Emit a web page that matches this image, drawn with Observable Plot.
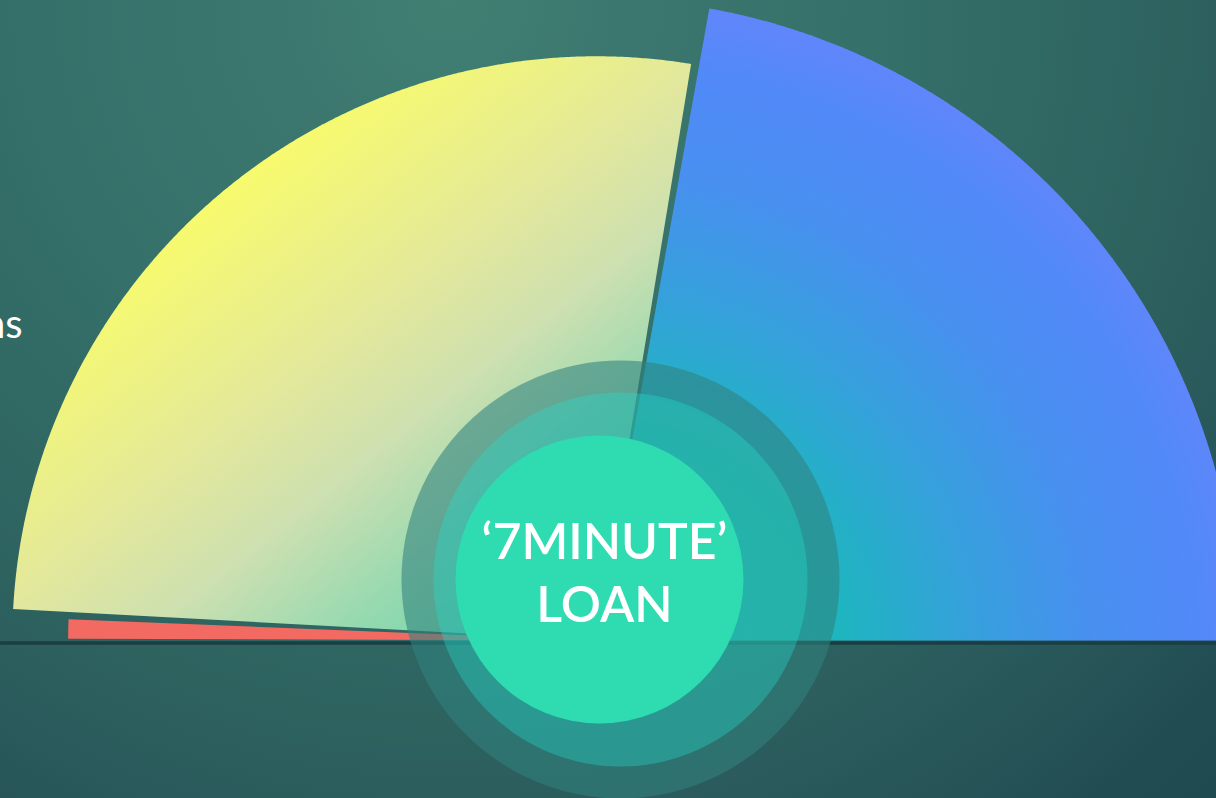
<!DOCTYPE html>
<html>
<head>
<meta charset="utf-8">
<script src="https://cdn.jsdelivr.net/npm/d3@7"></script>
<script src="https://cdn.jsdelivr.net/npm/@observablehq/plot@0.6"></script>
<style>
html, body { margin: 0; padding: 0; width: 1216px; height: 798px; overflow: hidden; }
body {
  background: radial-gradient(circle 1100px at 450px 0px,
    #417f72 0px, #3c786f 150px, #35706a 420px, #2d625f 730px,
    #2b5b5c 830px, #214d52 1030px, #1f4a50 1100px);
}
#chart { position: absolute; left: 0; top: 0; }
</style>
</head>
<body>
<div id="chart"></div>
<script>
// ---- data ----
const categories = ["Bank Loans", "Payday Loans", "Pawn Loans"];
const shares = [44.6, 53.9, 1.5];      // % of the half circle (angle)
const reach  = [100, 91, 82.3];        // relative outer radius of each wedge
const fills  = ["url(#gBlue)", "url(#gYellow)", "#f26a61"];
const labelled = "Payday Loans";
const centerText = "\u20187MINUTE\u2019\nLOAN";

// ---- layout ----
const W = 1216, H = 798;
const cx = 596, cy = 640;   // pixel position of the pie centre
const k = 6.42;             // pixels per radius unit
const pad = 0.8;            // degrees between wedges
const rad = d => d * Math.PI / 180;

const n = categories.length;
const wedgePts = [];
let cum = 0;
categories.forEach((c, i) => {
  const span = shares[i] / 100 * 180;
  const a0 = cum + (i > 0 ? pad / 2 : 0);
  const a1 = cum + span - (i < n - 1 ? pad / 2 : 0.2);
  cum += span;
  wedgePts.push({cat: c, x: 0, y: 0});
  for (let a = a0; a < a1; a += 0.25)
    wedgePts.push({cat: c, x: reach[i] * Math.cos(rad(a)), y: reach[i] * Math.sin(rad(a))});
  wedgePts.push({cat: c, x: reach[i] * Math.cos(rad(a1)), y: reach[i] * Math.sin(rad(a1))});
  wedgePts.push({cat: c, x: 0, y: 0});
});

// label position (polar, relative to its wedge)
const li = categories.indexOf(labelled);
const labelData = [{
  text: labelled,
  x: (reach[li] + 11) * Math.cos(rad(151.2)),
  y: (reach[li] + 11) * Math.sin(rad(151.2))
}];

// hub (decorative centre disc) in data units
const px2x = p => (p - cx) / k, px2y = p => (cy - p) / k;
const hubRings = [{x: px2x(620), y: px2y(579)}];
const hubCore = [{x: px2x(599), y: px2y(579)}];
const hubText = [{x: px2x(604), y: px2y(570), text: centerText}];

const marks = categories.map((c, i) =>
  Plot.line(wedgePts.filter(d => d.cat === c), {x: "x", y: "y", fill: fills[i], stroke: "none"})
);
marks.push(
  Plot.ruleY([0], {stroke: "#1a3e43", strokeWidth: 3.5, dy: 2.5}),
  Plot.dot(hubRings, {x: "x", y: "y", r: 219, fill: "rgb(48,129,125)", fillOpacity: 0.58, stroke: "none"}),
  Plot.dot(hubRings, {x: "x", y: "y", r: 187, fill: "rgb(36,225,208)", fillOpacity: 0.34, stroke: "none"}),
  Plot.dot(hubCore, {x: "x", y: "y", r: 144, fill: "#2fdbb1", stroke: "none"}),
  Plot.text(hubText, {x: "x", y: "y", text: "text", fill: "white", fontSize: 50, fontWeight: 600,
    fontFamily: "Lato", textAnchor: "middle", lineAnchor: "middle", lineHeight: 1.26}),
  Plot.text(labelData, {x: "x", y: "y", text: "text", fill: "white", fontSize: 40,
    fontFamily: "Lato", textAnchor: "end", lineAnchor: "middle"})
);

const svg = Plot.plot({
  width: W, height: H, margin: 0,
  x: {domain: [-cx / k, (W - cx) / k], range: [0, W], axis: null},
  y: {domain: [-(H - cy) / k, cy / k], range: [H, 0], axis: null},
  style: {background: "transparent", overflow: "visible"},
  marks
});

const defs = d3.select(svg).insert("defs", ":first-child");
const gy = defs.append("linearGradient").attr("id", "gYellow")
  .attr("gradientUnits", "userSpaceOnUse")
  .attr("x1", 230).attr("y1", 180).attr("x2", 560).attr("y2", 600);
[[0, "#f8fb6c"], [0.37, "#e2e89c"], [0.57, "#cde0b0"], [0.8, "#95d9b0"], [1, "#6fd8aa"]]
  .forEach(([o, c]) => gy.append("stop").attr("offset", o).attr("stop-color", c));
const gb = defs.append("radialGradient").attr("id", "gBlue")
  .attr("gradientUnits", "userSpaceOnUse")
  .attr("cx", 600).attr("cy", 660).attr("r", 680);
[[0, "#10c8b6"], [0.33, "#1bb8bc"], [0.55, "#36a0dc"], [0.72, "#4890f0"], [0.88, "#5289f8"], [1, "#6585fb"]]
  .forEach(([o, c]) => gb.append("stop").attr("offset", o).attr("stop-color", c));

document.getElementById("chart").appendChild(svg);
</script>
</body>
</html>
